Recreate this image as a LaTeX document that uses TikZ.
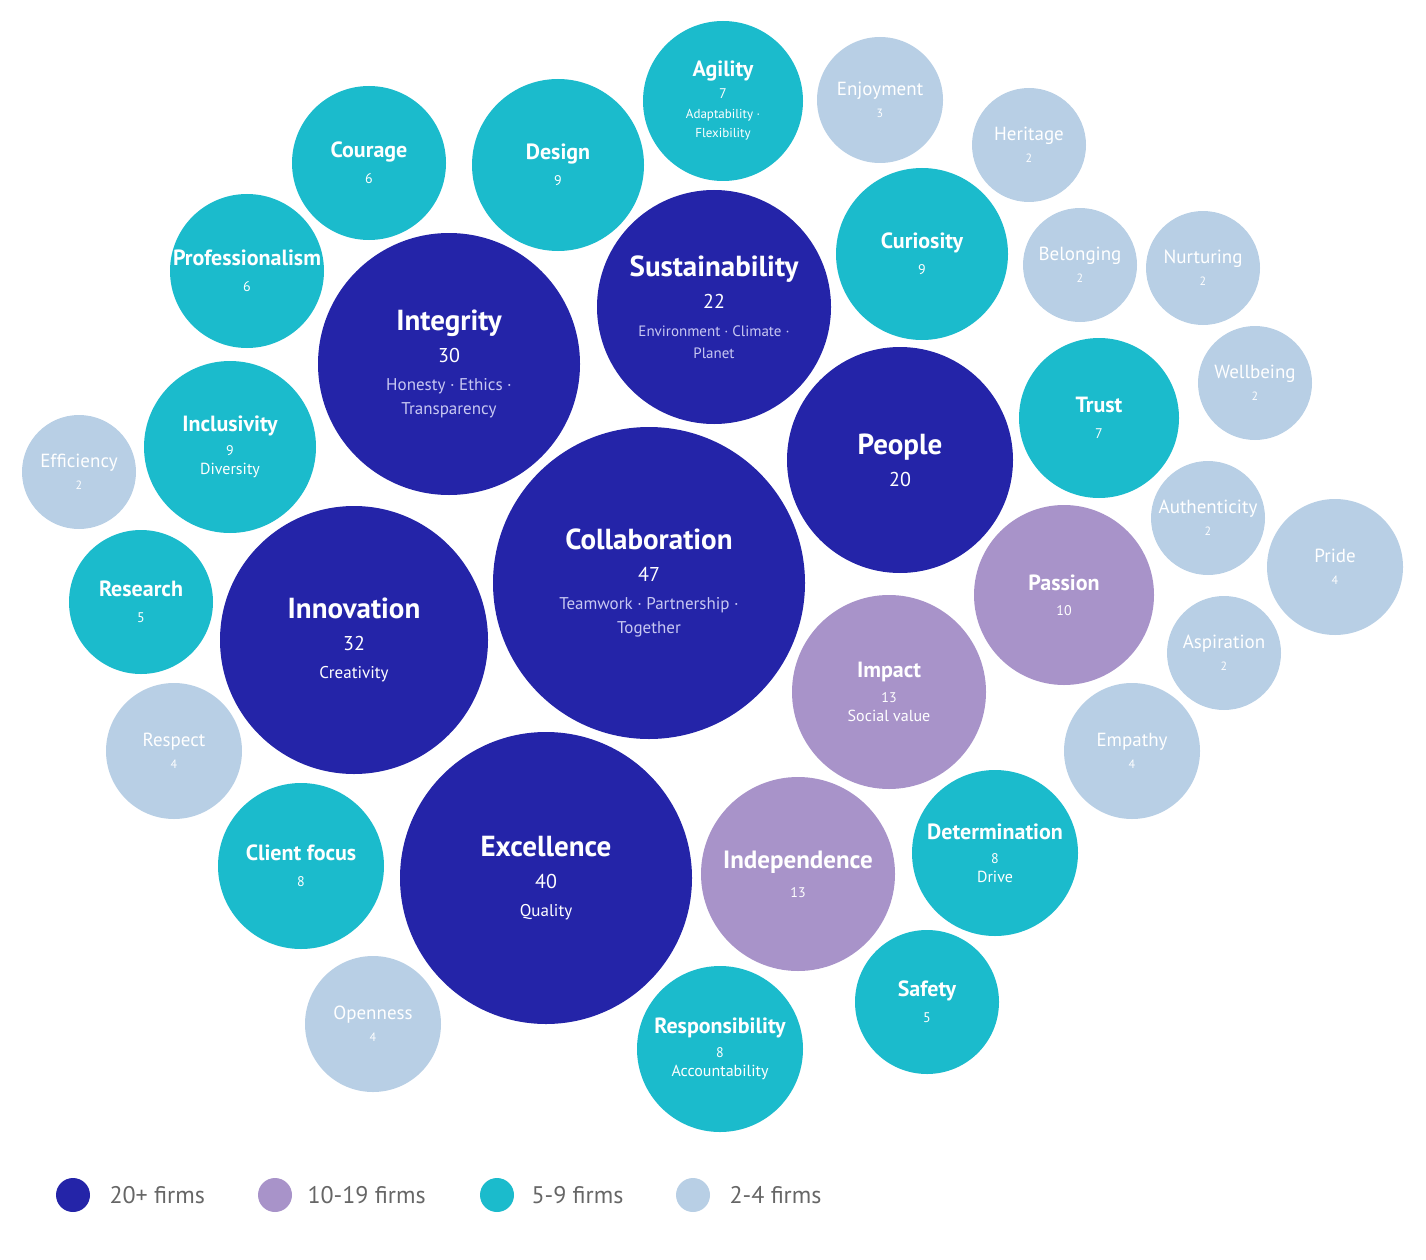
\documentclass[tikz,border=0pt]{standalone}
\usepackage{fontspec}
\setmainfont{PT Sans}
\definecolor{cdark}{HTML}{2424A8}
\definecolor{cpurp}{HTML}{A893C9}
\definecolor{cteal}{HTML}{1BBBCC}
\definecolor{clight}{HTML}{B8CFE5}
\definecolor{csub}{HTML}{C8C8F2}
\definecolor{cleg}{HTML}{666666}
\newcommand\fbT{\fontsize{29}{34}\selectfont\bfseries}
\newcommand\fbN{\fontsize{20}{26}\selectfont}
\newcommand\fbS{\fontsize{17}{23}\selectfont}
\newcommand\fmT{\fontsize{22}{27}\selectfont\bfseries}
\newcommand\fmN{\fontsize{14}{19}\selectfont}
\newcommand\fmS{\fontsize{16}{20}\selectfont}
\newcommand\flT{\fontsize{19}{23}\selectfont}
\newcommand\flN{\fontsize{12}{16}\selectfont}
\tikzset{x=1pt,y=-1pt,
 bub/.style={circle,inner sep=0pt,text=white,align=center},
 dark/.style={bub,fill=cdark,font=\fontsize{20}{28}\selectfont},
 purp/.style={bub,fill=cpurp,font=\fontsize{14}{23}\selectfont},
 teal/.style={bub,fill=cteal,font=\fontsize{14}{22}\selectfont},
 light/.style={bub,fill=clight,font=\fontsize{12}{22}\selectfont},
 legtext/.style={anchor=west,text=cleg,font=\fontsize{24}{28}\selectfont}}
\begin{document}
\begin{tikzpicture}
\useasboundingbox (0,0) rectangle (1426,1260);
\node[dark,minimum size=312pt] (collab) at (649,583) {{\fbT Collaboration}\\[4pt]{\fbN 47}\\{\fbS\color{csub}Teamwork · Partnership ·}\\[-4pt]{\fbS\color{csub}Together}};
\node[dark,minimum size=262pt] (integ) at (449,364) {{\fbT Integrity}\\[4pt]{\fbN 30}\\{\fbS\color{csub}Honesty · Ethics ·}\\[-4pt]{\fbS\color{csub}Transparency}};
\node[dark,minimum size=234pt] (sust) at (714,307) {{\fbT Sustainability}\\[4pt]{\fbN 22}\\{\fontsize{15}{21}\selectfont\color{csub}Environment · Climate ·}\\[-6pt]{\fontsize{15}{21}\selectfont\color{csub}Planet}};
\node[dark,minimum size=226pt] (people) at (900,460) {{\fbT People}\\[4pt]{\fbN 20}};
\node[dark,minimum size=268pt] (innov) at (354,640) {{\fbT Innovation}\\[4pt]{\fbN 32}\\{\fbS Creativity}};
\node[dark,minimum size=292pt] (excel) at (546,878) {{\fbT Excellence}\\[4pt]{\fbN 40}\\{\fbS Quality}};
\node[purp,minimum size=194pt] (impact) at (889,692) {{\fmT Impact}\\[2pt]{\fmN 13}\\[-4pt]{\fmS Social value}};
\node[purp,minimum size=180pt] (passion) at (1064,595) {{\fmT Passion}\\[2pt]{\fmN 10}};
\node[purp,minimum size=194pt] (indep) at (798,874) {{\fontsize{25}{32}\selectfont\bfseries Independence}\\[6pt]{\fmN 13}};
\node[teal,minimum size=160pt] (agility) at (723,101) {{\fmT Agility}\\{\fmN 7}\\[-2pt]{\fontsize{13}{18}\selectfont Adaptability ·}\\[-3pt]{\fontsize{13}{18}\selectfont Flexibility}};
\node[teal,minimum size=172pt] (design) at (558,165) {{\fmT Design}\\[4pt]{\fmN 9}};
\node[teal,minimum size=154pt] (courage) at (369,163) {{\fmT Courage}\\[4pt]{\fmN 6}};
\node[teal,minimum size=154pt] (prof) at (247,271) {{\fmT Professionalism}\\[4pt]{\fmN 6}};
\node[teal,minimum size=172pt] (curio) at (922,254) {{\fmT Curiosity}\\[4pt]{\fmN 9}};
\node[teal,minimum size=160pt] (trust) at (1099,418) {{\fmT Trust}\\[4pt]{\fmN 7}};
\node[teal,minimum size=172pt] (inclus) at (230,447) {{\fmT Inclusivity}\\[2pt]{\fmN 9}\\[-3pt]{\fmS Diversity}};
\node[teal,minimum size=144pt] (research) at (141,602) {{\fmT Research}\\[4pt]{\fmN 5}};
\node[teal,minimum size=166pt] (client) at (301,866) {{\fmT Client focus}\\[4pt]{\fmN 8}};
\node[teal,minimum size=166pt] (determ) at (995,853) {{\fmT Determination}\\[2pt]{\fmN 8}\\[-3pt]{\fmS Drive}};
\node[teal,minimum size=144pt] (safety) at (927,1002) {{\fmT Safety}\\[4pt]{\fmN 5}};
\node[teal,minimum size=166pt] (respon) at (720,1049) {{\fmT Responsibility}\\[2pt]{\fmN 8}\\[-3pt]{\fmS Accountability}};
\node[light,minimum size=126pt] (enjoy) at (880,100) {{\flT Enjoyment}\\{\flN 3}};
\node[light,minimum size=114pt] (herit) at (1029,145) {{\flT Heritage}\\{\flN 2}};
\node[light,minimum size=114pt] (belong) at (1080,265) {{\flT Belonging}\\{\flN 2}};
\node[light,minimum size=114pt] (nurt) at (1203,268) {{\flT Nurturing}\\{\flN 2}};
\node[light,minimum size=114pt] (well) at (1255,383) {{\flT Wellbeing}\\{\flN 2}};
\node[light,minimum size=114pt] (auth) at (1208,518) {{\flT Authenticity}\\{\flN 2}};
\node[light,minimum size=136pt] (pride) at (1335,567) {{\flT Pride}\\{\flN 4}};
\node[light,minimum size=114pt] (aspir) at (1224,653) {{\flT Aspiration}\\{\flN 2}};
\node[light,minimum size=136pt] (empathy) at (1132,751) {{\flT Empathy}\\{\flN 4}};
\node[light,minimum size=114pt] (effic) at (79,472) {{\flT Efficiency}\\{\flN 2}};
\node[light,minimum size=136pt] (respect) at (174,751) {{\flT Respect}\\{\flN 4}};
\node[light,minimum size=136pt] (open) at (373,1024) {{\flT Openness}\\{\flN 4}};
\node[dark,minimum size=34pt] (l1) at (73,1195) {};
\node[legtext] (t1) at (106,1195) {20+ firms};
\node[purp,minimum size=34pt] (l2) at (275,1195) {};
\node[legtext] (t2) at (304,1195) {10-19 firms};
\node[teal,minimum size=34pt] (l3) at (497,1195) {};
\node[legtext] (t3) at (528,1195) {5-9 firms};
\node[light,minimum size=34pt] (l4) at (693,1195) {};
\node[legtext] (t4) at (726,1195) {2-4 firms};
\end{tikzpicture}
\end{document}
